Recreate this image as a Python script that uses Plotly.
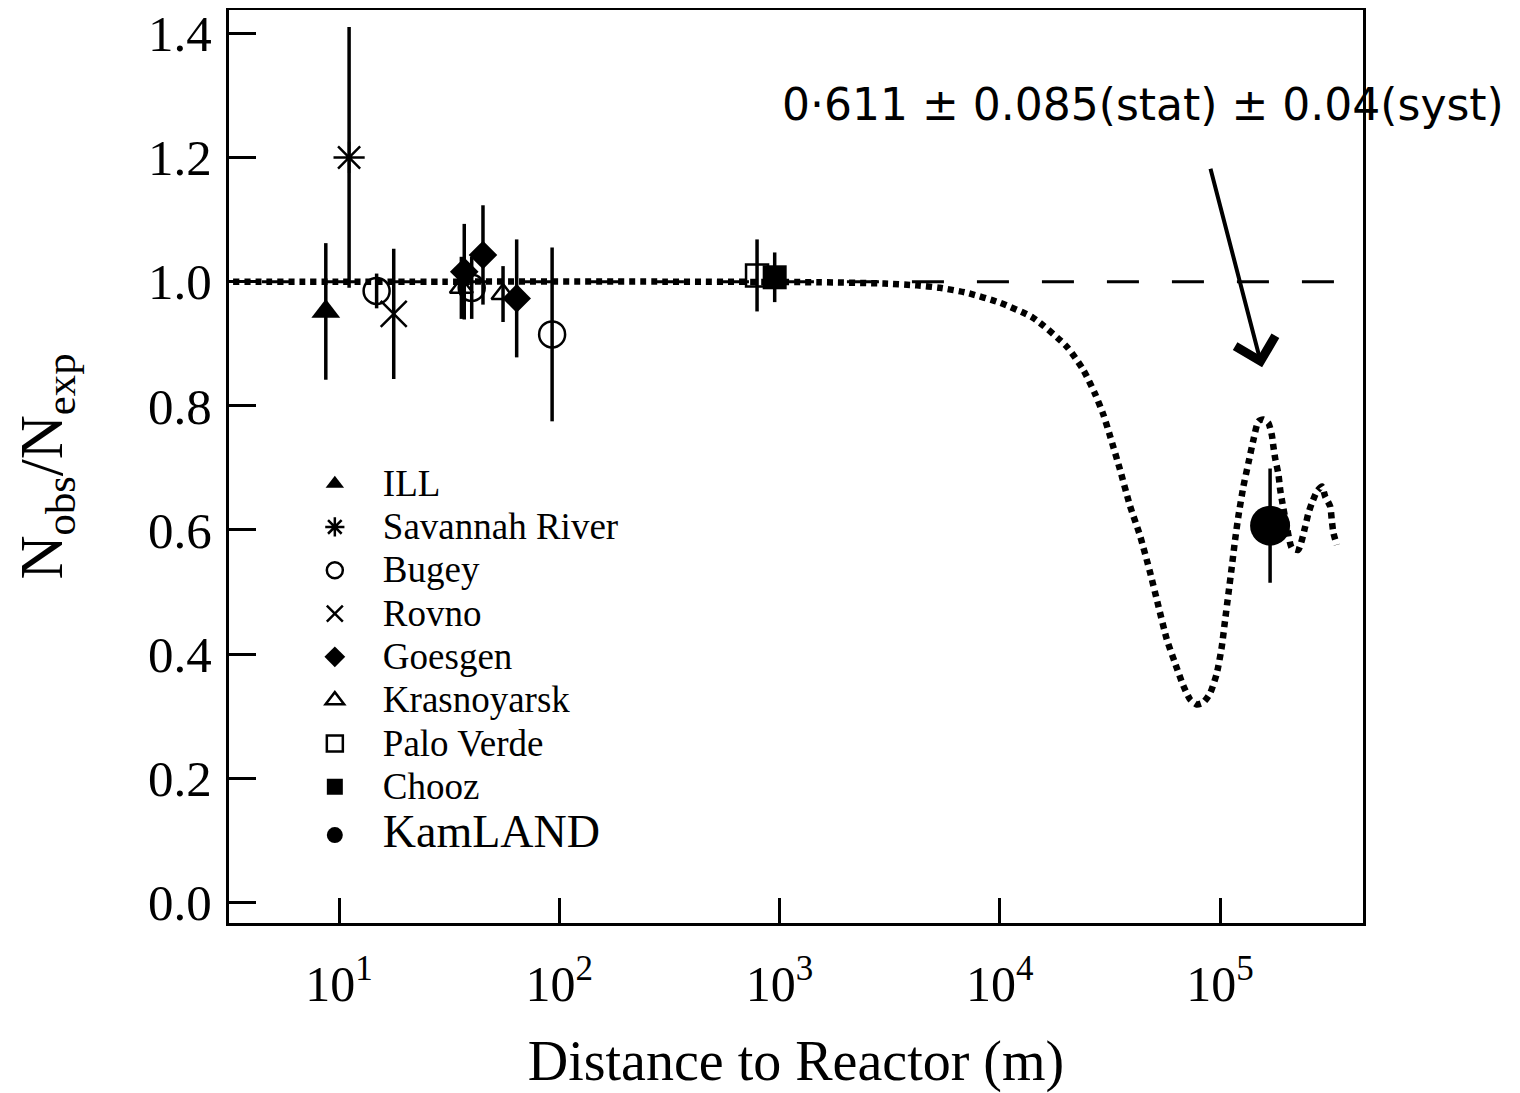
import math
import plotly.graph_objects as go

# ---------------- data ----------------
ill_L = [8.7]
ill_R = [0.952]
ill_E = [0.11]

sav_L = [11.1]
sav_R = [1.20]
sav_E = [0.21]

bugey_L = [14.8, 40.0, 92.7]
bugey_R = [0.985, 0.99, 0.915]
bugey_E = [0.028, 0.05, 0.14]

rovno_L = [17.7]
rovno_R = [0.948]
rovno_E = [0.105]

goes_L = [37.0, 45.0, 64.0]
goes_R = [1.016, 1.043, 0.973]
goes_E = [0.077, 0.08, 0.095]

kras_L = [35.9, 55.5]
kras_R = [0.99, 0.98]
kras_E = [0.05, 0.045]

palo_L = [790.0]
palo_R = [1.01]
palo_E = [0.058]

chooz_L = [950.0]
chooz_R = [1.007]
chooz_E = [0.04]

kam_L = [168700.0]
kam_R = [0.607]
kam_E = [0.092]

# oscillation expectation curve (dotted)
osc_L = [3.3, 30, 300, 1500, 3000, 4200, 5340, 7080, 10000, 14130,
         20170, 24000, 27000, 29500, 31620, 35080, 38990, 43290, 48080, 52430,
         57280, 62400, 68120, 73110, 78340, 83750, 90100, 96600, 101800, 105400,
         109200, 113100, 117000, 121100, 127600, 134500, 141700, 149300, 157000, 165800,
         171800, 174700, 177800, 184000, 187500, 190700, 200000, 211900, 226400, 243400,
         251800, 261000, 275100, 290000, 300100, 316200, 321500, 327200, 338900]
osc_R = [1.0, 1.0, 1.0, 0.999, 0.997, 0.994, 0.990, 0.982, 0.966, 0.942,
         0.895, 0.857, 0.820, 0.786, 0.752, 0.698, 0.639, 0.591, 0.532, 0.478,
         0.424, 0.386, 0.349, 0.327, 0.319, 0.322, 0.337, 0.369, 0.412, 0.455,
         0.498, 0.541, 0.584, 0.622, 0.670, 0.708, 0.745, 0.775, 0.778, 0.772,
         0.753, 0.734, 0.716, 0.690, 0.665, 0.649, 0.610, 0.571, 0.568, 0.605,
         0.627, 0.643, 0.662, 0.670, 0.654, 0.638, 0.616, 0.595, 0.576]

# no-oscillation line (dashed)
flat_L = [3.16, 460000]
flat_R = [1.0, 1.0]

x_tickvals = [10, 100, 1000, 10000, 100000]
x_ticktext = ["10<sup>1</sup>", "10<sup>2</sup>", "10<sup>3</sup>", "10<sup>4</sup>", "10<sup>5</sup>"]
y_tickvals = [0.0, 0.2, 0.4, 0.6, 0.8, 1.0, 1.2, 1.4]
y_ticktext = ["0.0", "0.2", "0.4", "0.6", "0.8", "1.0", "1.2", "1.4"]

note_text = "0·611 ± 0.085(stat) ± 0.04(syst)"
arrow_head_L = 155200.0
arrow_head_R = 0.862

SERIF = "Liberation Serif, Times New Roman, serif"
BLACK = "black"

fig = go.Figure()

# curves
fig.add_trace(go.Scatter(x=flat_L, y=flat_R, mode="lines", showlegend=False,
                         line=dict(color=BLACK, width=3, dash="0px,33px,32px,0px"),
                         hoverinfo="skip"))
fig.add_trace(go.Scatter(x=osc_L, y=osc_R, mode="lines", showlegend=False,
                         line=dict(color=BLACK, width=6.5, dash="6px,5px",
                                   shape="spline", smoothing=0.6),
                         hoverinfo="skip"))


def legend_name(text, px):
    return '<span style="font-size:%dpx">%s</span>' % (px, text)


def add_exp(name, L, R, E, symbol, size, lw=2.5, label_px=37, group="old"):
    fig.add_trace(go.Scatter(
        x=L, y=R, mode="markers", name=legend_name(name, label_px),
        legendgroup=group,
        marker=dict(symbol=symbol, size=size, color=BLACK,
                    line=dict(color=BLACK, width=lw)),
        error_y=dict(type="data", array=E, visible=True, color=BLACK,
                     thickness=3.5, width=0),
    ))


add_exp("ILL", ill_L, ill_R, ill_E, "triangle-up", 25, 0)
add_exp("Savannah River", sav_L, sav_R, sav_E, "asterisk-open", 26, 2.5)
add_exp("Bugey", bugey_L, bugey_R, bugey_E, "circle-open", 26, 2.5)
add_exp("Rovno", rovno_L, rovno_R, rovno_E, "x-thin-open", 26, 2.5)
add_exp("Goesgen", goes_L, goes_R, goes_E, "diamond", 22, 0)
add_exp("Krasnoyarsk", kras_L, kras_R, kras_E, "triangle-up-open", 20, 2.5)
add_exp("Palo Verde", palo_L, palo_R, palo_E, "square-open", 22, 2.5)
add_exp("Chooz", chooz_L, chooz_R, chooz_E, "square", 24, 0)
add_exp("KamLAND", kam_L, kam_R, kam_E, "circle", 40, 0, label_px=46, group="kam")

axis_common = dict(showline=True, linewidth=3, linecolor=BLACK, mirror=True,
                   ticks="inside", tickwidth=3, tickcolor=BLACK,
                   showgrid=False, zeroline=False, ticklabeloverflow="allow")

fig.update_xaxes(type="log", range=[0.5, 5.649],
                 tickvals=x_tickvals, ticktext=x_ticktext, ticklen=25,
                 ticklabelstandoff=15,
                 tickfont=dict(family=SERIF, size=50, color=BLACK),
                 title=dict(text="Distance to Reactor (m)",
                            font=dict(family=SERIF, size=56, color=BLACK), standoff=30),
                 **axis_common)
fig.update_yaxes(range=[-0.033, 1.4375],
                 tickvals=y_tickvals, ticktext=y_ticktext, ticklen=27,
                 ticklabelstandoff=4,
                 tickfont=dict(family=SERIF, size=51, color=BLACK),
                 title=dict(text="N<sub>obs</sub>/N<sub>exp</sub>",
                            font=dict(family=SERIF, size=61, color=BLACK), standoff=70),
                 **axis_common)

fig.add_annotation(x=0.486, y=0.896, xref="paper", yref="paper",
                   xanchor="left", yanchor="middle", showarrow=False,
                   text=note_text,
                   font=dict(family="DejaVu Sans, sans-serif", size=44, color=BLACK))
fig.add_annotation(x=math.log10(arrow_head_L), y=arrow_head_R, xref="x", yref="y",
                   text="", showarrow=True, axref="pixel", ayref="pixel",
                   ax=-52, ay=-200, arrowhead=4, arrowsize=2.0, arrowwidth=4,
                   arrowcolor=BLACK)

# the page body adds an 8px offset, so the figure is 8px smaller than the window
fig.update_layout(
    width=1512, height=1085,
    margin=dict(l=221, r=157, t=2, b=170, autoexpand=False),
    paper_bgcolor="white", plot_bgcolor="white",
    font=dict(family=SERIF, color=BLACK),
    showlegend=True,
    legend=dict(x=0.051, y=0.5104, xanchor="left", yanchor="top",
                bgcolor="rgba(0,0,0,0)", borderwidth=0,
                font=dict(family=SERIF, size=31, color=BLACK),
                itemwidth=86, tracegroupgap=5, traceorder="grouped"),
)

fig.write_html("out.html")
